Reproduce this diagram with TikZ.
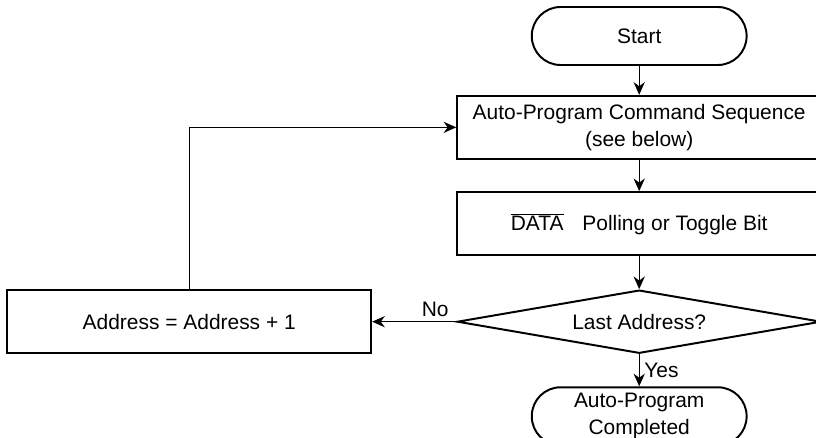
\documentclass[tikz,border=0pt]{standalone}
\usepackage{fontspec}
\setmainfont{Liberation Sans}
\usetikzlibrary{positioning,shapes.geometric,arrows.meta}

\begin{document}
\begin{tikzpicture}[
  font=\fontsize{14.9}{19}\selectfont,
  box/.style={draw, line width=1.4pt, minimum width=9.1cm, minimum height=1.58cm, align=center},
  term/.style={draw, line width=1.4pt, rounded corners=0.72cm, minimum width=5.37cm, minimum height=1.45cm, align=center},
  test/.style={draw, diamond, line width=1.4pt, aspect=5.76, minimum width=9.1cm, minimum height=1.58cm, inner sep=0pt},
  flow/.style={-{Stealth[length=9pt,width=8pt]}, line width=0.7pt}
]
\useasboundingbox (0,0) rectangle (20.4,-10.95);
\node[term] (start) at (15.98,-0.9) {Start};
\node[box, below=0.72cm of start] (seq) {Auto-Program Command Sequence\\(see below)};
\node[box, below=0.78cm of seq] (poll) {$\overline{\mbox{DATA}}$\hspace{0.9em}Polling or Toggle Bit};
\node[test, below=0.82cm of poll] (last) {Last Address?};
\node[term, below=0.8cm of last] (done) {Auto-Program\\Completed};
\node[box, left=2.1cm of last] (incr) {Address = Address + 1};

\path[flow]
  (start) edge (seq)
  (seq) edge (poll)
  (poll) edge (last)
  (last) edge node [right] {Yes} (done)
  (last) edge node [above, pos=0.25] {No} (incr)
  ;
\draw[flow] (incr.north) |- (seq.west);
\end{tikzpicture}
\end{document}
